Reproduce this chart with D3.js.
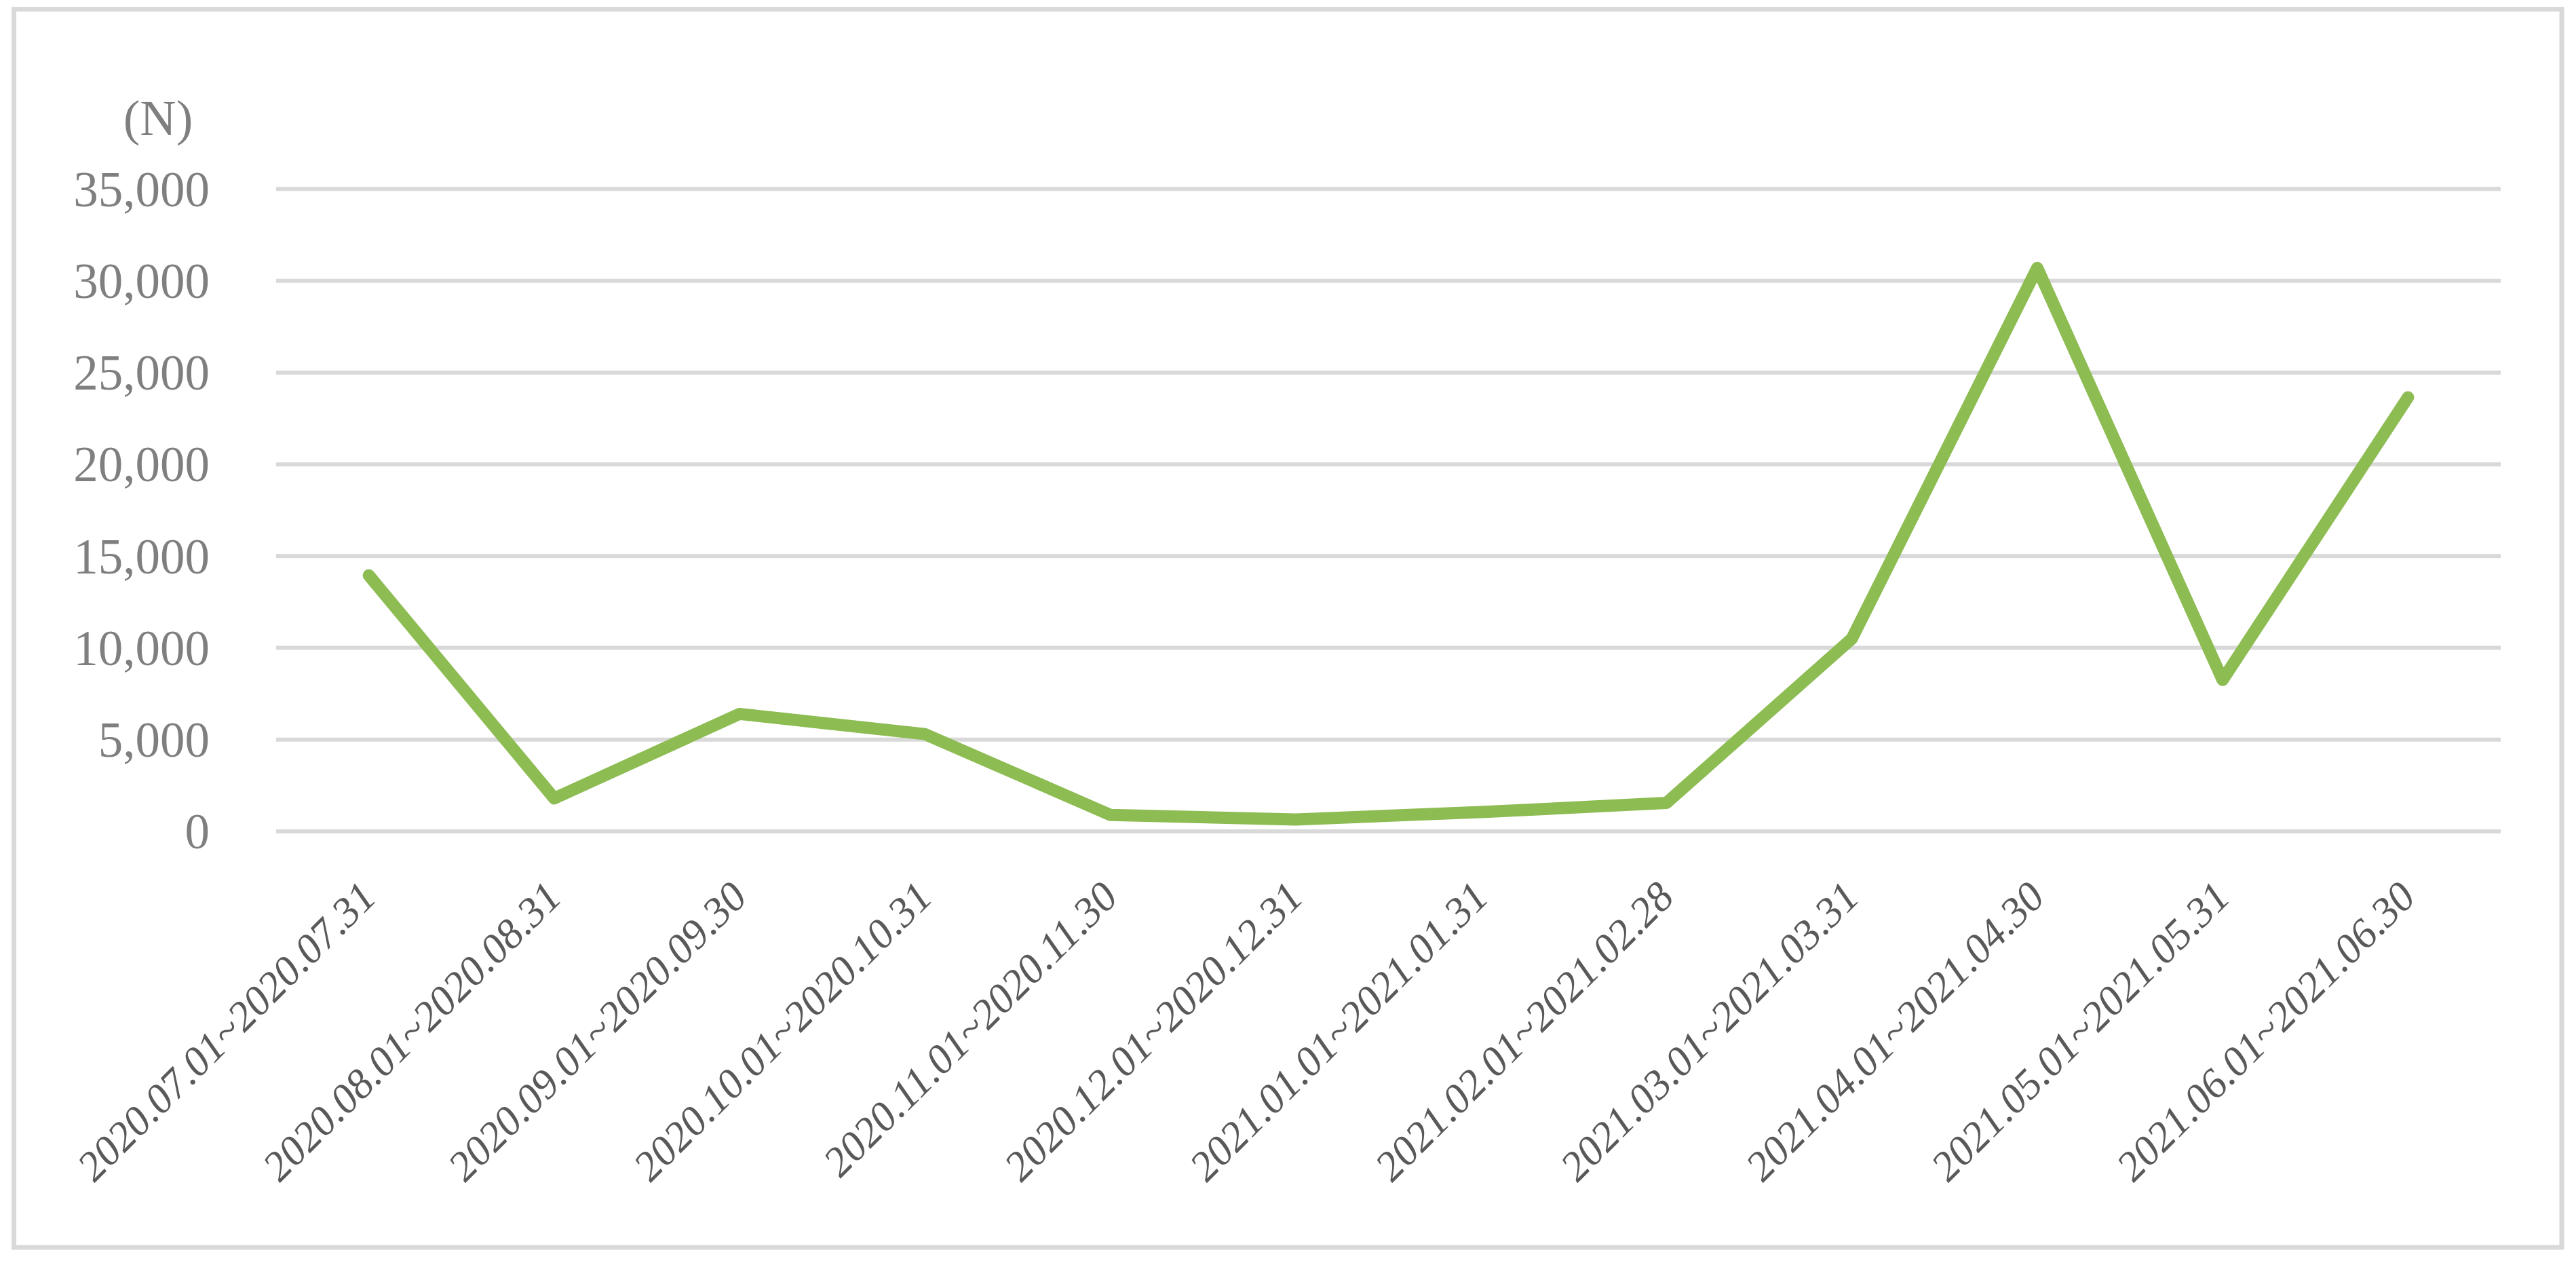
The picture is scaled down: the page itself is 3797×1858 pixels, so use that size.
<!DOCTYPE html>
<html>
<head>
<meta charset="utf-8">
<script src="https://cdn.jsdelivr.net/npm/d3@7"></script>
<style>
  html, body { margin: 0; padding: 0; background: #fff; }
  svg { display: block; }
</style>
</head>
<body>
<script>
const categories = [
  "2020.07.01~2020.07.31",
  "2020.08.01~2020.08.31",
  "2020.09.01~2020.09.30",
  "2020.10.01~2020.10.31",
  "2020.11.01~2020.11.30",
  "2020.12.01~2020.12.31",
  "2021.01.01~2021.01.31",
  "2021.02.01~2021.02.28",
  "2021.03.01~2021.03.31",
  "2021.04.01~2021.04.30",
  "2021.05.01~2021.05.31",
  "2021.06.01~2021.06.30"
];
const values = [13950, 1800, 6400, 5300, 900, 650, 1050, 1550, 10500, 30700, 8250, 23650];
const yTicks = [0, 5000, 10000, 15000, 20000, 25000, 30000, 35000];
const unitLabel = "(N)";

const W = 3797, H = 1858;
const plot = { left: 407, right: 3686, top: 278.5, bottom: 1225 };

const svg = d3.select("body").append("svg")
  .attr("width", W).attr("height", H);

svg.append("rect").attr("x", 0).attr("y", 0).attr("width", W).attr("height", H).attr("fill", "#fff");

// outer border
svg.append("rect")
  .attr("x", 20.5).attr("y", 13.5)
  .attr("width", 3776 - 20.5).attr("height", 1838 - 13.5)
  .attr("fill", "none").attr("stroke", "#D9D9D9").attr("stroke-width", 7);

const x = d3.scaleBand().domain(categories).range([plot.left, plot.right]).padding(0);
const y = d3.scaleLinear().domain([0, 35000]).range([plot.bottom, plot.top]);

// gridlines
svg.append("g").selectAll("line").data(yTicks).join("line")
  .attr("x1", plot.left).attr("x2", plot.right)
  .attr("y1", d => y(d)).attr("y2", d => y(d))
  .attr("stroke", "#D9D9D9").attr("stroke-width", 6);

// y axis labels
const yAxis = d3.axisLeft(y).tickValues(yTicks).tickSize(0).tickPadding(0)
  .tickFormat(d3.format(","));
const gy = svg.append("g").attr("transform", `translate(309,0)`).call(yAxis);
gy.select(".domain").remove();
gy.selectAll("text")
  .attr("font-family", "'Liberation Serif', 'Times New Roman', serif")
  .attr("font-size", 73)
  .attr("fill", "#7F7F7F")
  .attr("dy", "0.34em");

// unit label
svg.append("text")
  .attr("x", 233).attr("y", 199)
  .attr("text-anchor", "middle")
  .attr("font-family", "'Liberation Serif', 'Times New Roman', serif")
  .attr("font-size", 74)
  .attr("fill", "#7F7F7F")
  .text(unitLabel);

// x axis labels
const xAxis = d3.axisBottom(x).tickSize(0).tickPadding(0);
const gx = svg.append("g").attr("transform", `translate(0,${plot.bottom})`).call(xAxis);
gx.select(".domain").remove();
gx.selectAll("text")
  .attr("font-family", "'Liberation Serif', 'Times New Roman', serif")
  .attr("font-style", "italic")
  .attr("font-size", 62)
  .attr("fill", "#595959")
  .attr("text-anchor", "end")
  .attr("y", 0).attr("dy", 0)
  .attr("transform", "translate(14,100) rotate(-45)");

// line
const line = d3.line()
  .x((d, i) => x(categories[i]) + x.bandwidth() / 2)
  .y(d => y(d));

svg.append("path")
  .datum(values)
  .attr("d", line)
  .attr("fill", "none")
  .attr("stroke", "#8DBC52")
  .attr("stroke-width", 18)
  .attr("stroke-linejoin", "round")
  .attr("stroke-linecap", "round");
</script>
</body>
</html>
